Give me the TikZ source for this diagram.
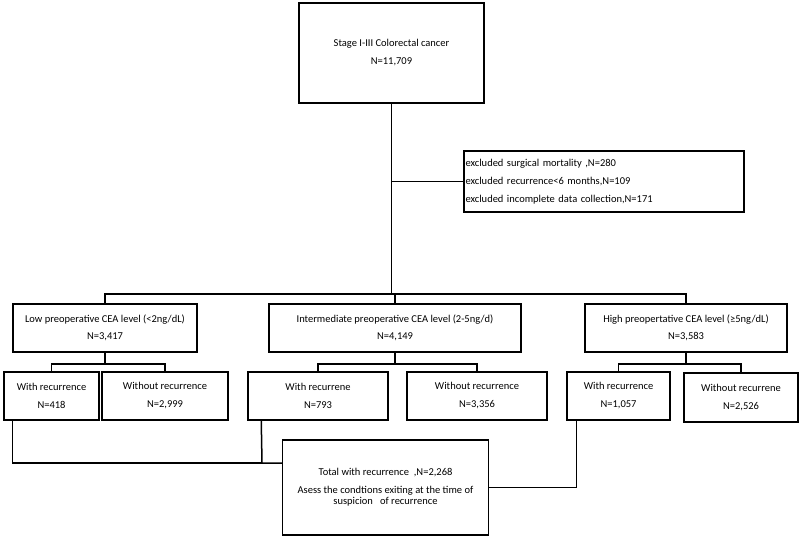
\documentclass[tikz,border=0pt]{standalone}
\usepackage{fontspec}
\setmainfont{Carlito}
\begin{document}
\begin{tikzpicture}[x=1pt, y=-1pt, line width=1.5pt, box node/.style={rectangle,draw,align=center,inner sep=1pt,font=\fontsize{10.5}{11}\selectfont}]
\useasboundingbox (0,0) rectangle (800,537);
\begin{scope}
\node[box node,minimum width=185pt,minimum height=100pt] (c0) at (391.5,53) {Stage I-III Colorectal\ cancer\\[7pt]N=11,709};
\node[box node,align=left,text width=277pt,minimum height=61pt,inner xsep=1.5pt] (ex) at (604,181.5) {excluded surgical mortality ,N=280\\[7pt]excluded recurrence<6 months,N=109\\[7pt]excluded incomplete\ data collection,N=171};
\node[box node,minimum width=184pt,minimum height=48pt] (l1) at (105,328) {Low preoperative CEA level (<2ng/dL)\\[6pt]N=3,417};
\node[box node,minimum width=252pt,minimum height=48pt] (l2) at (395,328) {Intermediate preoperative CEA level (2-5ng/d)\\[6pt]N=4,149};
\node[box node,minimum width=202pt,minimum height=48pt] (l3) at (686,328) {High preopertative CEA level (≥5ng/dL)\\[6pt]N=3,583};
\node[box node,minimum width=95pt,minimum height=48pt] (r1) at (51.5,396) {With recurrence\\[7pt]N=418};
\node[box node,minimum width=126pt,minimum height=48pt] (r2) at (165,396) {Without\ recurrence\\[7pt]N=2,999};
\node[box node,minimum width=140pt,minimum height=48pt] (r3) at (318,396) {With recurrene\\[7pt]N=793};
\node[box node,minimum width=140pt,minimum height=48pt] (r4) at (477,396) {Without\ recurrence\\[7pt]N=3,356};
\node[box node,minimum width=103pt,minimum height=48pt] (r5) at (618.5,396) {With recurrence\\[7pt]N=1,057};
\node[box node,minimum width=114pt,minimum height=49pt] (r6) at (741,397.5) {Without\ recurrene\\[7pt]N=2,526};
\node[box node,minimum width=206pt,minimum height=95pt] (tot) at (385.5,487.5) {Total with recurrence\ \ ,N=2,268\\[7pt]Asess the condtions\ exiting at the time of\\suspicion\ \ \ of recurrence};
%\node[box node] () at (,) {};
\end{scope}
\begin{scope}
\coordinate (bar) at (392,294);
\coordinate (j) at (262,463);
\draw (c0.south) -- (c0.south |- bar);
\draw (c0.south |- ex.west) -- (ex.west);
\draw (l1.north) |- (bar) -| (l3.north);
\draw (l2.north) -- (l2.north |- bar);
\draw (l1.south) -- ++(0,11) coordinate (k1);
\draw (r1.north) |- (k1) -| (r2.north);
\draw (l2.south) -- ++(0,11) coordinate (k2);
\draw (r3.north) |- (k2) -| (r4.north);
\draw (l3.south) -- ++(0,11) coordinate (k3);
\draw (r5.north) |- (k3) -| (r6.north);
\draw ([xshift=9pt]r1.south west) |- (j);
\draw ([xshift=14pt]r3.south west) -- (j) -- (j -| tot.west);
\draw ([xshift=10pt]r5.south west) |- (tot.east);
%\draw (v) -- (v);
\end{scope}
\end{tikzpicture}
\end{document}
